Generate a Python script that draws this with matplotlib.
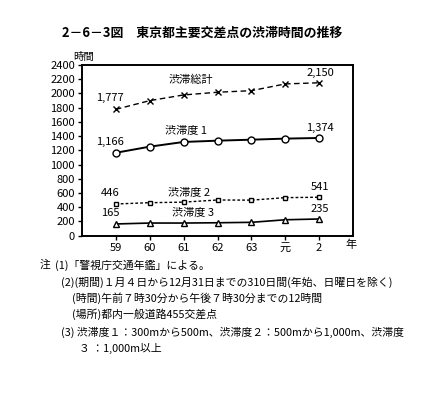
import matplotlib
matplotlib.use("Agg")
import matplotlib.pyplot as plt

plt.rcParams['font.family'] = ['Noto Sans CJK JP', 'DejaVu Sans']

years = ["59", "60", "61", "62", "63", "元", "2"]
total = [1777, 1899, 1979, 2017, 2039, 2134, 2150]
level1 = [1166, 1252, 1318, 1336, 1350, 1365, 1374]
level2 = [446, 464, 472, 502, 500, 535, 541]
level3 = [165, 178, 178, 182, 188, 224, 235]
yticks = list(range(0, 2401, 200))

title = "2－6－3図　東京都主要交差点の渋滞時間の推移"
notes = [
    (40, "注"),
    (55, "(1)「警視庁交通年鑑」による。"),
    (61, "(2)(期間)１月４日から12月31日までの310日間(年始、日曜日を除く)"),
    (72, "(時間)午前７時30分から午後７時30分までの12時間"),
    (72, "(場所)都内一般道路455交差点"),
    (61, "(3) 渋滞度１：300mから500m、渋滞度２：500mから1,000m、渋滞度"),
    (79, "３ ：1,000m以上"),
]
note_y = [265, 265, 282, 298, 314, 332, 348]

W, H = 434, 393
fig = plt.figure(figsize=(W / 100, H / 100), dpi=100)


def px(x, y):
    return x / W, 1 - y / H


ax = fig.add_axes([82 / W, 1 - 235.7 / H, (353 - 82) / W, (235.7 - 65) / H])
xs = list(range(len(years)))

ax.plot(xs, total, color="black", lw=1.0, ls=(0, (4, 2.5)), marker="x",
        ms=5, mew=1.0)
ax.plot(xs, level1, color="black", lw=1.4, ls="-", marker="o", ms=5,
        mfc="white", mew=1.0)
ax.plot(xs, level2, color="black", lw=1.0, ls=(0, (2, 1.5)), marker="s",
        ms=3.5, mfc="white", mew=1.0)
ax.plot(xs, level3, color="black", lw=1.2, ls="-", marker="^", ms=4.5,
        mfc="white", mew=1.0)

ax.set_xlim(-1, 7)
ax.set_ylim(0, 2400)
ax.set_xticks(xs)
ax.set_xticklabels(years)
ax.set_yticks(yticks)
ax.tick_params(axis="both", labelsize=8, length=3, width=1.0, direction="out",
               pad=2)
for s in ax.spines.values():
    s.set_linewidth(1.4)

# value labels at first and last year
for series in (total, level1, level2, level3):
    ax.annotate(f"{series[0]:,}", (xs[0], series[0]), xytext=(-6, 11),
                textcoords="offset pixels", ha="center", va="center",
                fontsize=8)
    ax.annotate(f"{series[-1]:,}", (xs[-1], series[-1]), xytext=(1, 10),
                textcoords="offset pixels", ha="center", va="center",
                fontsize=8)

names = [("渋滞総計", 191, 80), ("渋滞度 1", 186, 131),
         ("渋滞度 2", 189, 193), ("渋滞度 3", 193, 213)]
for t, x, y in names:
    fig.text(*px(x, y), t, ha="center", va="center", fontsize=8)

fig.text(*px(84, 57), "時間", ha="center", va="center", fontsize=7.5)
fig.text(*px(351, 245), "年", ha="center", va="center", fontsize=8)
fig.text(*px(202, 33), title, ha="center", va="center", fontsize=9.3,
         fontweight="bold")

for (x, t), y in zip(notes, note_y):
    fig.text(*px(x, y), t, ha="left", va="center", fontsize=7.8)

fig.savefig("out.png", dpi=100)
